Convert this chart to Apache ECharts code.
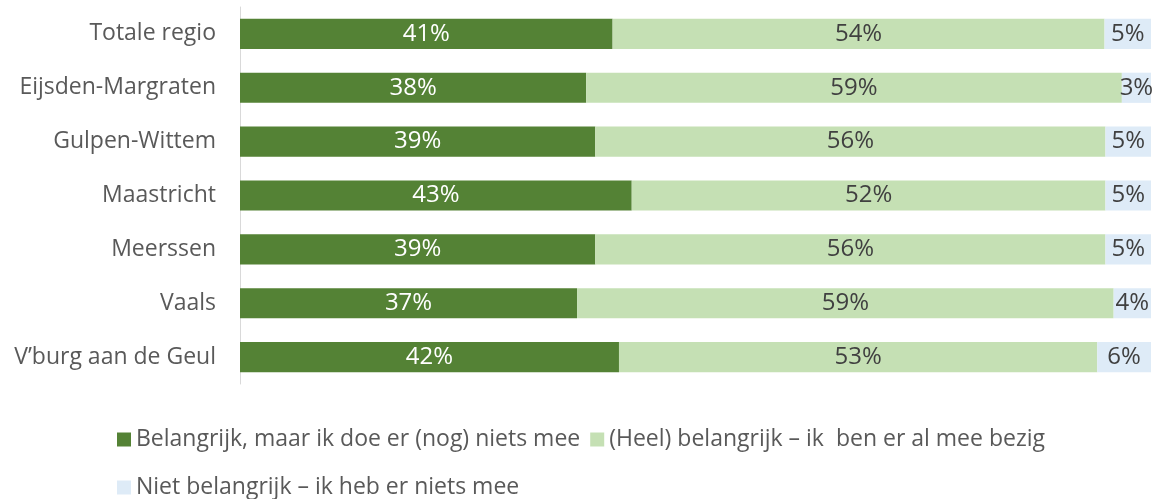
<!DOCTYPE html>
<html>
<head>
<meta charset="utf-8">
<script src="https://cdn.jsdelivr.net/npm/echarts@6/dist/echarts.min.js"></script>
<style>
  html, body { margin: 0; padding: 0; background: #fff; }
  #chart { width: 1162px; height: 499px; }
</style>
</head>
<body>
<div id="chart"></div>
<script>
// categories, top to bottom
var regions = ['Totale regio', 'Eijsden-Margraten', 'Gulpen-Wittem', 'Maastricht', 'Meerssen', 'Vaals', 'V\u2019burg aan de Geul'];
var seriesNames = [
  'Belangrijk, maar ik doe er (nog) niets mee',
  '(Heel) belangrijk \u2013 ik  ben er al mee bezig',
  'Niet belangrijk \u2013 ik heb er niets mee'
];
// percentages (labels are rounded)
var nogNiets  = [40.9, 38.0, 39.0, 43.0, 39.0, 37.0, 41.6];
var alBezig   = [54.0, 58.8, 56.0, 52.0, 56.0, 58.9, 52.5];
var nietBelang = [5.1, 3.2, 5.0, 5.0, 5.0, 4.1, 5.9];

var colors = ['#548235', '#C5E0B4', '#DEEBF7'];
var font = 'Open Sans';

function makeSeries(name, data, color, labelColor) {
  return {
    name: name,
    type: 'bar',
    stack: 'total',
    barCategoryGap: '44%',
    data: data,
    itemStyle: { color: color },
    label: {
      show: true,
      position: 'inside',
      color: labelColor,
      fontFamily: font,
      fontSize: 24,
      formatter: function (p) { return Math.round(p.value) + '%'; }
    },
    emphasis: { disabled: true }
  };
}

var legendBase = {
  icon: 'rect', itemWidth: 14, itemHeight: 14, itemGap: 10,
  textStyle: { color: '#595959', fontFamily: font, fontSize: 23 },
  selectedMode: false
};

var chart = echarts.init(document.getElementById('chart'));
chart.setOption({
  animation: false,
  color: colors,
  grid: { left: 240, right: 11, top: 7, height: 377, containLabel: false },
  xAxis: {
    type: 'value', min: 0, max: 100, show: false
  },
  yAxis: {
    type: 'category',
    inverse: true,
    data: regions,
    axisLine: { show: true, lineStyle: { color: '#D9D9D9', width: 1 } },
    axisTick: { show: false },
    axisLabel: { color: '#595959', fontFamily: font, fontSize: 23, margin: 24 }
  },
  legend: [
    Object.assign({ data: [seriesNames[0], seriesNames[1]], left: 112, top: 423 }, legendBase),
    Object.assign({ data: [seriesNames[2]], left: 112, top: 471 }, legendBase)
  ],
  series: [
    makeSeries(seriesNames[0], nogNiets, colors[0], '#FFFFFF'),
    makeSeries(seriesNames[1], alBezig, colors[1], '#404040'),
    makeSeries(seriesNames[2], nietBelang, colors[2], '#404040')
  ]
});
</script>
</body>
</html>
